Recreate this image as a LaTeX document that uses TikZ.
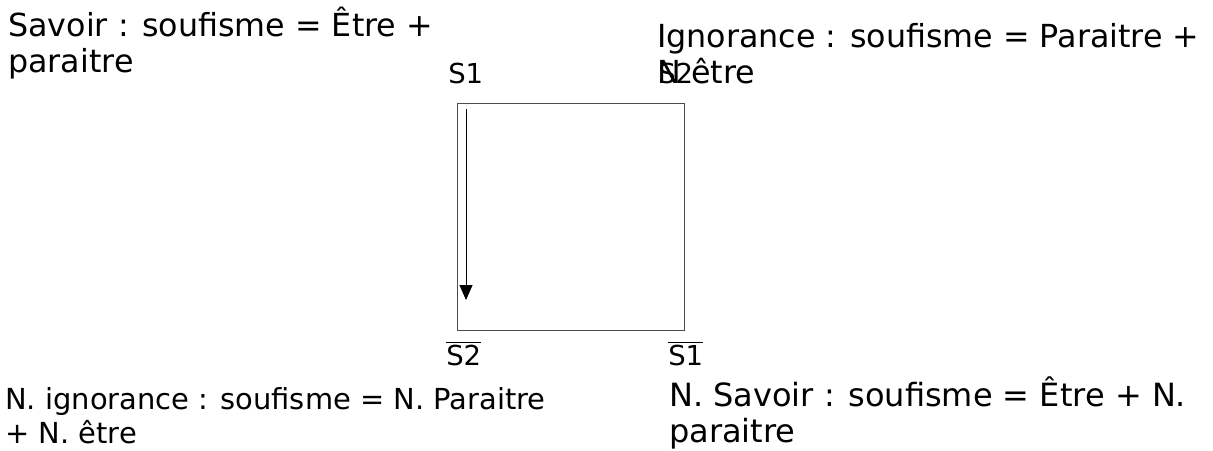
\documentclass[tikz,border=0pt]{standalone}
\usepackage{fontspec}
\setmainfont{DejaVu Sans}
\usetikzlibrary{arrows.meta, positioning}

\begin{document}
\begin{tikzpicture}[
        x=0.75pt, y=-0.75pt,
        texte/.style={inner sep=0pt, anchor=base west, align=left, font=\fontsize{23.8pt}{26.3pt}\selectfont},
        sommet/.style={inner sep=0pt, anchor=base west, font=\fontsize{20.6pt}{24pt}\selectfont},
        carre/.style={draw=black!70, line width=0.75pt},
        arrow/.style={-{Triangle[length=11.25pt, width=9.75pt]}, line width=0.75pt}
    ]
    \useasboundingbox (0,0) rectangle (1213,450);

    % le carre
    \coordinate (coin_hg) at (457,103);
    \coordinate (coin_bd) at (684,330);
    \draw [carre] (coin_hg) rectangle (coin_bd);

    % les sommets
    \node (s1_node) [sommet] at (448,83) {S1};
    \node (s2_node) [sommet] at (658,83) {S2};
    \node (ns2_node) [sommet] at (446,365) {$\overline{\mbox{S2}}$};
    \node (ns1_node) [sommet] at (668,365) {$\overline{\mbox{S1}}$};

    % les definitions (ancre = ligne du bas)
    \node (savoir_node) [texte] at (8,72) {Savoir : soufisme = Être +\\paraitre};
    \node (ignorance_node) [texte, font=\fontsize{23.8pt}{27pt}\selectfont] at (657,83) {Ignorance : soufisme = Paraitre +\\N être};
    \node (nignorance_node) [texte, font=\fontsize{21.7pt}{24.8pt}\selectfont] at (5,443) {N. ignorance : soufisme = N. Paraitre\\+ N. être};
    \node (nsavoir_node) [texte, font=\fontsize{24pt}{26.3pt}\selectfont] at (669,442) {N. Savoir : soufisme = Être + N.\\paraitre};

    % la fleche
    \coordinate (depart) at (466,109);
    \coordinate (arrivee) at (466,300);
    \draw [arrow] (depart) -- (arrivee);

\end{tikzpicture}
\end{document}
